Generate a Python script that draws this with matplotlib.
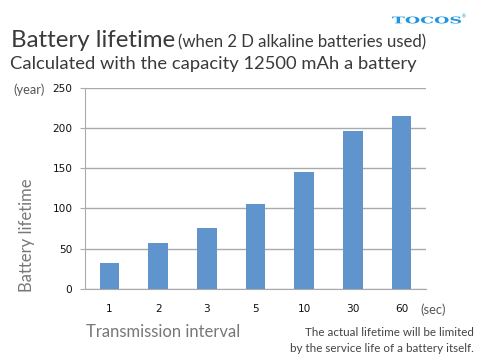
import matplotlib
matplotlib.use("Agg")
import matplotlib.pyplot as plt
from matplotlib.textpath import TextPath
from matplotlib.patches import PathPatch
from matplotlib.font_manager import FontProperties
from matplotlib.transforms import Affine2D

categories = ["1", "2", "3", "5", "10", "30", "60"]
values = [32, 57, 76, 105, 145, 196, 215]
yticks = [0, 50, 100, 150, 200, 250]

plt.rcParams['font.family'] = ['Lato', 'DejaVu Sans']

W, H = 480, 360
fig = plt.figure(figsize=(4.8, 3.6), dpi=100)
ax = fig.add_axes([85/W, 1-289/H, (426-85)/W, (289-87.5)/H])

x = range(len(categories))
ax.bar(x, values, width=0.4, color="#5f95cc", zorder=3)
ax.set_xlim(-0.5, len(categories)-0.5)
ax.set_ylim(0, 250)
ax.set_yticks(yticks)
ax.set_xticks(list(x))
ax.set_xticklabels(categories, family=['DejaVu Sans'])
ax.set_yticklabels([str(v) for v in yticks], family=['DejaVu Sans'])
ax.grid(axis='y', color="#aaaaaa", linewidth=1.0, zorder=0)
for s in ['top', 'right']:
    ax.spines[s].set_visible(False)
ax.spines['left'].set_color("#aaaaaa")
ax.spines['bottom'].set_color("#aaaaaa")
ax.tick_params(axis='x', length=0, pad=11, labelsize=7.6, colors="#111111")
ax.tick_params(axis='y', length=3.5, color="#aaaaaa", pad=5.5, labelsize=7.6, labelcolor="#111111")
ax.set_ylabel("Battery lifetime", fontsize=12, color="#777777")
ax.yaxis.set_label_coords(-0.147, 0.265)

fig.text(13/W, 1-90/H, "(year)", fontsize=9.3, color="#555555", va='center')
fig.text(420/W, 1-310/H, "(sec)", fontsize=9.3, color="#555555", va='center')
fig.text(86/W, 1-332/H, "Transmission interval", fontsize=12, color="#777777", va='center')
fig.text(474/W, 1-332/H, "The actual lifetime will be limited", fontsize=8.4, color="#444444", va='center', ha='right')
fig.text(474/W, 1-348/H, "by the service life of a battery itself.", fontsize=8.4, color="#444444", va='center', ha='right')

fig.text(11/W, 1-47/H, "Battery lifetime", fontsize=17.3, color="#3a3a3a", va='baseline')
fig.text(178/W, 1-47/H, "(when 2 D alkaline batteries used)", fontsize=12.1, color="#3a3a3a", va='baseline')
fig.text(10/W, 1-69/H, "Calculated with the capacity 12500 mAh a battery", fontsize=13.2, color="#3a3a3a", va='baseline')

# TOCOS logo: wide bold serif letters
fp = FontProperties(family='DejaVu Serif', weight='bold')
tp = TextPath((0, 0), "TOCOS", size=10, prop=fp)
ext = tp.get_extents()
sx = (461 - 392) / ext.width
sy = 7.0 / ext.height
tr = Affine2D().translate(-ext.x0, -ext.y0).scale(sx, sy).translate(392, H - 23.5)
logo = PathPatch(tr.transform_path(tp), facecolor="#1e96dc", edgecolor="none", transform=None)
fig.patches.append(logo)
fig.text(462/W, 1-17/H, "®", fontsize=3.5, color="#1e96dc", va='center')

fig.savefig("out.png", dpi=100)
